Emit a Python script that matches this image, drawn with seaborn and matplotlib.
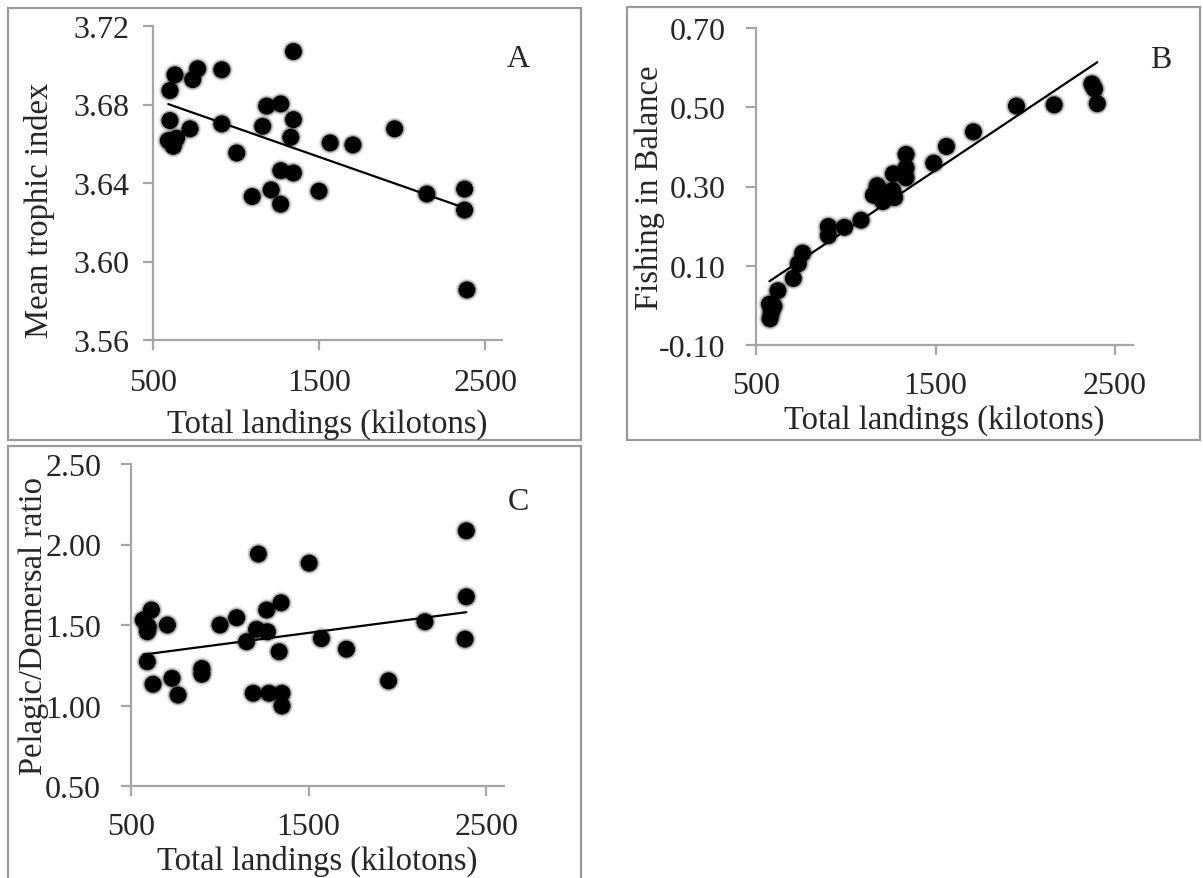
import numpy as np
import pandas as pd
import seaborn as sns
import matplotlib
matplotlib.use("Agg")
import matplotlib.pyplot as plt
from matplotlib.patches import Rectangle

# Panel A: total landings vs mean trophic index
landings_a = [602, 632, 739, 769, 914, 1345, 602, 592, 642, 622, 723, 914, 1004,
              1160, 1184, 1269, 1345, 1329, 1269, 1345, 1097, 1211, 1268, 1499,
              1566, 1703, 1954, 2148, 2375, 2375, 2389]
trophic = [3.6871, 3.6951, 3.6927, 3.6982, 3.6977, 3.7070, 3.6718, 3.6616, 3.6628,
           3.6587, 3.6676, 3.6701, 3.6553, 3.6689, 3.6792, 3.6803, 3.6723, 3.6633,
           3.6463, 3.6451, 3.6331, 3.6365, 3.6292, 3.6358, 3.6604, 3.6594, 3.6676,
           3.6344, 3.6369, 3.6262, 3.5855]

# Panel B: total landings vs Fishing-in-Balance index
landings_b = [575, 600, 585, 578, 622, 708, 736, 760, 903, 903, 993, 1085, 1154,
              1175, 1190, 1207, 1225, 1261, 1272, 1265, 1336, 1336, 1336, 1490,
              1561, 1711, 1951, 2161, 2371, 2386, 2401]
fib = [0.003, -0.002, -0.018, -0.034, 0.037, 0.068, 0.105, 0.132, 0.199, 0.176,
       0.197, 0.215, 0.278, 0.302, 0.289, 0.262, 0.275, 0.290, 0.272, 0.332,
       0.381, 0.347, 0.322, 0.359, 0.401, 0.438, 0.503, 0.506, 0.559, 0.546, 0.509]

# Panel C: total landings vs pelagic/demersal ratio
landings_c = [615, 569, 597, 592, 705, 592, 624, 731, 765, 899, 899, 1001, 1095,
              1151, 1207, 1217, 1188, 1264, 1268, 1277, 1345, 1334, 1350, 1350,
              1503, 1572, 1713, 1950, 2155, 2388, 2388, 2381]
pd_ratio = [1.593, 1.531, 1.489, 1.458, 1.500, 1.272, 1.132, 1.169, 1.065, 1.230,
            1.194, 1.500, 1.545, 1.396, 1.473, 1.941, 1.076, 1.593, 1.458, 1.076,
            1.638, 1.334, 1.076, 0.997, 1.884, 1.416, 1.350, 1.153, 1.520, 2.085,
            1.675, 1.412]

x_ticks = [500, 1500, 2500]
yticks_a = [3.56, 3.60, 3.64, 3.68, 3.72]
yticks_b = [-0.10, 0.10, 0.30, 0.50, 0.70]
yticks_c = [0.50, 1.00, 1.50, 2.00, 2.50]

sns.set_style("white")
plt.rcParams["font.family"] = ["Liberation Serif", "DejaVu Serif"]

W, H = 1203, 879
fig = plt.figure(figsize=(W / 100, H / 100), dpi=100)

GRAY = "#a6a6a6"
FS = 23


def px_axes(left, top, right, bottom):
    return fig.add_axes([left / W, 1 - bottom / H, (right - left) / W, (bottom - top) / H])


def frame(x0, y0, x1, y1):
    fig.add_artist(Rectangle((x0 / W, 1 - y1 / H), (x1 - x0) / W, (y1 - y0) / H,
                             transform=fig.transFigure, fill=False,
                             edgecolor="#9a9a9a", lw=1.6, zorder=0))


def panel(ax, x, y, yticks, ylabel, letter, letter_pos, ylab_pos, xlab_y,
          xpad, ypad):
    df = pd.DataFrame({"x": x, "y": y})
    # dots with a soft, fading edge
    for size, alpha in ((270, 0.07), (225, 0.12), (190, 0.2)):
        sns.scatterplot(data=df, x="x", y="y", ax=ax, s=size, color="black",
                        alpha=alpha, edgecolor="none", legend=False, zorder=2)
    sns.scatterplot(data=df, x="x", y="y", ax=ax, s=150, color="black",
                    edgecolor="none", legend=False, zorder=3)
    sns.regplot(data=df, x="x", y="y", ax=ax, scatter=False, ci=None,
                truncate=True, line_kws={"color": "black", "lw": 1.6, "zorder": 4})
    ax.set_xlim(500, 2600)
    ax.set_ylim(yticks[0], yticks[-1])
    ax.set_xticks(x_ticks)
    ax.set_xticklabels([str(t) for t in x_ticks])
    ax.set_yticks(yticks)
    ax.set_yticklabels([f"{t:.2f}" for t in yticks])
    ax.set_xlabel("Total landings (kilotons)", fontsize=FS + 0.5, va="center")
    ax.set_ylabel(ylabel, fontsize=FS + 0.5, va="center")
    ax.xaxis.set_label_coords(0.5, xlab_y)
    ax.yaxis.set_label_coords(ylab_pos[0], ylab_pos[1])
    for s in ("top", "right"):
        ax.spines[s].set_visible(False)
    for s in ("left", "bottom"):
        ax.spines[s].set_color(GRAY)
        ax.spines[s].set_linewidth(1.6)
    ax.tick_params(axis="both", which="major", direction="out", length=7,
                   width=1.6, color=GRAY, labelsize=FS)
    ax.tick_params(axis="x", pad=xpad)
    ax.tick_params(axis="y", pad=ypad)
    ax.tick_params(left=True, bottom=True)
    ax.text(letter_pos[0], letter_pos[1], letter, transform=ax.transAxes,
            fontsize=FS, ha="center", va="center")
    ax.patch.set_alpha(0)


frame(8, 9, 581, 441)
frame(627, 8, 1200, 441)
frame(8, 447, 581, 890)

ax_a = px_axes(153, 27, 502, 341)
panel(ax_a, landings_a, trophic, yticks_a, "Mean trophic index", "A",
      (1.046, 0.895), (-0.324, 0.417), -0.265, 13, 10)

ax_b = px_axes(756, 29, 1133, 346)
panel(ax_b, landings_b, fib, yticks_b, "Fishing in Balance", "B",
      (1.074, 0.90), (-0.281, 0.5), -0.235, 12, 15)

ax_c = px_axes(131, 465, 504, 787)
panel(ax_c, landings_c, pd_ratio, yticks_c, "Pelagic/Demersal ratio", "C",
      (1.038, 0.882), (-0.26, 0.5), -0.23, 12, 14.5)

fig.savefig("out.png", dpi=100)
